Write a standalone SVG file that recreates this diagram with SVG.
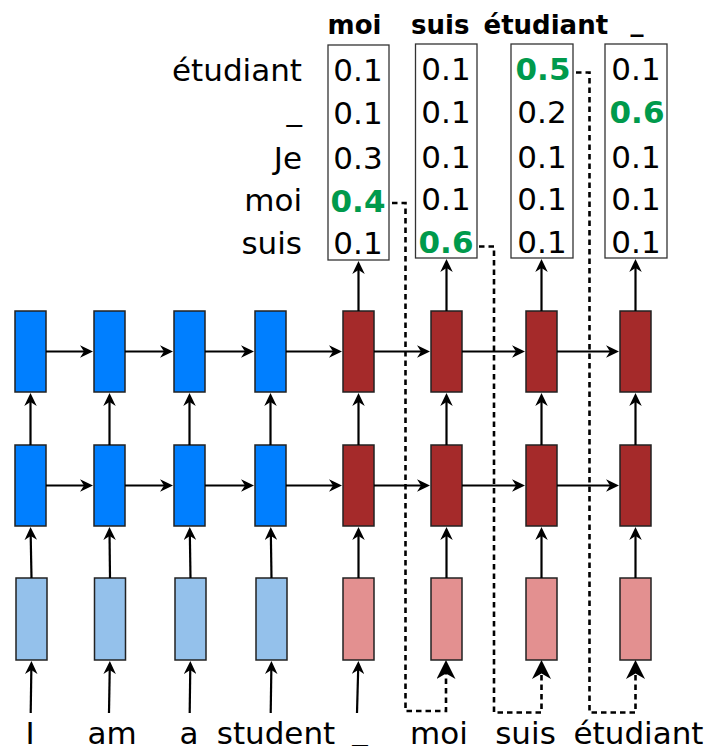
<svg xmlns="http://www.w3.org/2000/svg" width="709" height="746" viewBox="0 0 709 746">
<defs>
<style>
text{font-family:"DejaVu Sans","Liberation Sans",sans-serif;fill:#000}
.lbl{font-size:31px}
.hdr{font-size:26px;font-weight:bold}
.val{font-size:31px;text-anchor:middle}
.hi{font-weight:bold;fill:#009a4c}
.end{text-anchor:end}
.mid{text-anchor:middle}
.enc{fill:#007fff;stroke:#222;stroke-width:1.5}
.encin{fill:#94c1eb;stroke:#222;stroke-width:1.5}
.dec{fill:#a52a2a;stroke:#222;stroke-width:1.5}
.decin{fill:#e39090;stroke:#222;stroke-width:1.5}
.pbox{fill:none;stroke:#333;stroke-width:1.3}
.arr{fill:none;stroke:#000;stroke-width:2.2;marker-end:url(#ah)}
.dash{fill:none;stroke:#000;stroke-width:2.6;stroke-dasharray:5.5,4;marker-end:url(#ahd)}
</style>
<marker id="ah" viewBox="0 0 13 12.5" refX="9" refY="6.25" markerWidth="13" markerHeight="12.5" markerUnits="userSpaceOnUse" orient="auto">
<path d="M0,0 L13,6.25 L0,12.5 L4,6.25 Z" fill="#000"/>
</marker>
<marker id="ahd" viewBox="0 0 19 19" refX="11" refY="9.5" markerWidth="19" markerHeight="19" markerUnits="userSpaceOnUse" orient="auto">
<path d="M0,0 L19,9.5 L0,19 L5.5,9.5 Z" fill="#000"/>
</marker>
</defs>

<g id="headers">
<text class="hdr mid" x="354.5" y="34">moi</text>
<text class="hdr mid" x="440.3" y="34">suis</text>
<text class="hdr mid" x="545.8" y="34">étudiant</text>
<text class="hdr mid" x="637" y="30.5">_</text>
</g>

<g id="vocab">
<text class="lbl end" x="302" y="120">_</text>
<text class="lbl end" x="302" y="81">étudiant</text>
<text class="lbl end" x="302" y="169">Je</text>
<text class="lbl end" x="302" y="211">moi</text>
<text class="lbl end" x="302" y="254">suis</text>
</g>

<g id="prob-moi">
<rect class="pbox" x="328" y="45" width="61" height="215"/>
<text class="val" x="358" y="81">0.1</text>
<text class="val" x="358" y="124">0.1</text>
<text class="val" x="358" y="169">0.3</text>
<text class="val hi" x="358" y="211.5">0.4</text>
<text class="val" x="358" y="253.5">0.1</text>
</g>
<g id="prob-suis">
<rect class="pbox" x="415.5" y="44" width="61.5" height="214"/>
<text class="val" x="446" y="80">0.1</text>
<text class="val" x="446" y="123">0.1</text>
<text class="val" x="446" y="168">0.1</text>
<text class="val" x="446" y="209.5">0.1</text>
<text class="val hi" x="446" y="253">0.6</text>
</g>
<g id="prob-etudiant">
<rect class="pbox" x="511" y="44" width="62" height="214"/>
<text class="val hi" x="543" y="80">0.5</text>
<text class="val" x="542" y="123">0.2</text>
<text class="val" x="542" y="168">0.1</text>
<text class="val" x="542" y="209.5">0.1</text>
<text class="val" x="542" y="253">0.1</text>
</g>
<g id="prob-eos">
<rect class="pbox" x="605" y="44" width="62" height="214"/>
<text class="val" x="636" y="80">0.1</text>
<text class="val hi" x="637" y="123">0.6</text>
<text class="val" x="636" y="168">0.1</text>
<text class="val" x="636" y="209.5">0.1</text>
<text class="val" x="636" y="253">0.1</text>
</g>

<g id="enc1"><rect class="enc" x="15" y="311" width="31" height="81"/><rect class="enc" x="15" y="445" width="31" height="81"/><rect class="encin" x="16" y="578" width="31" height="82"/></g>
<g id="enc2"><rect class="enc" x="94" y="311" width="31" height="81"/><rect class="enc" x="94" y="445" width="31" height="81"/><rect class="encin" x="94.5" y="578" width="31" height="82"/></g>
<g id="enc3"><rect class="enc" x="174" y="311" width="31" height="81"/><rect class="enc" x="174" y="445" width="31" height="81"/><rect class="encin" x="175" y="578" width="31" height="82"/></g>
<g id="enc4"><rect class="enc" x="255" y="311" width="31" height="81"/><rect class="enc" x="255" y="445" width="31" height="81"/><rect class="encin" x="256" y="578" width="31" height="82"/></g>
<g id="dec1"><rect class="dec" x="343" y="311" width="31" height="81"/><rect class="dec" x="343" y="445" width="31" height="81"/><rect class="decin" x="343" y="578" width="31" height="82"/></g>
<g id="dec2"><rect class="dec" x="431" y="311" width="31" height="81"/><rect class="dec" x="431" y="445" width="31" height="81"/><rect class="decin" x="431" y="578" width="31" height="82"/></g>
<g id="dec3"><rect class="dec" x="526" y="311" width="31" height="81"/><rect class="dec" x="526" y="445" width="31" height="81"/><rect class="decin" x="526" y="578" width="31" height="82"/></g>
<g id="dec4"><rect class="dec" x="620" y="311" width="31" height="81"/><rect class="dec" x="620" y="445" width="31" height="81"/><rect class="decin" x="620" y="578" width="31" height="82"/></g>

<g id="words">
<text class="lbl mid" x="30" y="744">I</text>
<text class="lbl mid" x="112" y="744">am</text>
<text class="lbl mid" x="189" y="744">a</text>
<text class="lbl mid" x="276" y="744">student</text>
<text class="lbl mid" x="360" y="740">_</text>
<text class="lbl mid" x="439" y="744">moi</text>
<text class="lbl mid" x="525.5" y="744">suis</text>
<text class="lbl mid" x="638.5" y="744">étudiant</text>
</g>

<g id="connectors">
<line class="arr" x1="46" y1="351.5" x2="89" y2="351.5"/>
<line class="arr" x1="125" y1="351.5" x2="169" y2="351.5"/>
<line class="arr" x1="205" y1="351.5" x2="250" y2="351.5"/>
<line class="arr" x1="286" y1="351.5" x2="338" y2="351.5"/>
<line class="arr" x1="374" y1="351.5" x2="426" y2="351.5"/>
<line class="arr" x1="462" y1="351.5" x2="521" y2="351.5"/>
<line class="arr" x1="557" y1="351.5" x2="615" y2="351.5"/>
<line class="arr" x1="46" y1="485.5" x2="89" y2="485.5"/>
<line class="arr" x1="125" y1="485.5" x2="169" y2="485.5"/>
<line class="arr" x1="205" y1="485.5" x2="250" y2="485.5"/>
<line class="arr" x1="286" y1="485.5" x2="338" y2="485.5"/>
<line class="arr" x1="374" y1="485.5" x2="426" y2="485.5"/>
<line class="arr" x1="462" y1="485.5" x2="521" y2="485.5"/>
<line class="arr" x1="557" y1="485.5" x2="615" y2="485.5"/>
<line class="arr" x1="30.5" y1="445" x2="30.5" y2="397"/>
<line class="arr" x1="109.5" y1="445" x2="109.5" y2="397"/>
<line class="arr" x1="189.5" y1="445" x2="189.5" y2="397"/>
<line class="arr" x1="270.5" y1="445" x2="270.5" y2="397"/>
<line class="arr" x1="358.5" y1="445" x2="358.5" y2="397"/>
<line class="arr" x1="446.5" y1="445" x2="446.5" y2="397"/>
<line class="arr" x1="541.5" y1="445" x2="541.5" y2="397"/>
<line class="arr" x1="635.5" y1="445" x2="635.5" y2="397"/>
<line class="arr" x1="31.5" y1="578" x2="30.6" y2="531"/>
<line class="arr" x1="110" y1="578" x2="109.5" y2="531"/>
<line class="arr" x1="190.5" y1="578" x2="189.8" y2="531"/>
<line class="arr" x1="271.5" y1="578" x2="270.8" y2="531"/>
<line class="arr" x1="358.5" y1="578" x2="358.5" y2="531"/>
<line class="arr" x1="446.5" y1="578" x2="446.5" y2="531"/>
<line class="arr" x1="541.5" y1="578" x2="541.5" y2="531"/>
<line class="arr" x1="635.5" y1="578" x2="635.5" y2="531"/>
<line class="arr" x1="358.5" y1="311" x2="358.5" y2="265"/>
<line class="arr" x1="446.5" y1="311" x2="446.5" y2="263"/>
<line class="arr" x1="541.5" y1="311" x2="541.5" y2="263"/>
<line class="arr" x1="635.5" y1="311" x2="635.5" y2="263"/>
<line class="arr" x1="30.7" y1="713" x2="31.4" y2="665"/>
<line class="arr" x1="109" y1="713" x2="109.8" y2="665"/>
<line class="arr" x1="189.7" y1="713" x2="190.3" y2="665"/>
<line class="arr" x1="270.7" y1="713" x2="271.4" y2="665"/>
<line class="arr" x1="357" y1="713" x2="358.3" y2="665"/>
<path class="dash" d="M392,203 H405.5 V711 H446 V668"/>
<path class="dash" d="M479,246.5 H494 V712.5 H541.5 V668"/>
<path class="dash" d="M576,72.5 H589.5 V712.5 H635.5 V668"/>
</g>
</svg>
